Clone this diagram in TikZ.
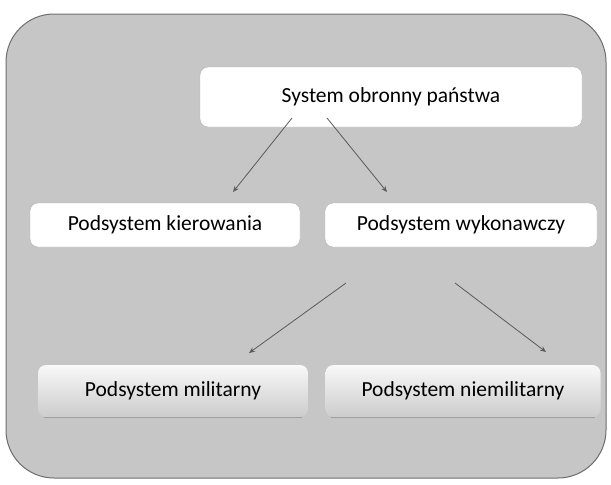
\documentclass[tikz,border=0pt]{standalone}
\usepackage{fontspec}
\setmainfont{Carlito}
\usetikzlibrary{arrows.meta}
\definecolor{bgray}{RGB}{198,198,198}
\definecolor{edgegray}{RGB}{110,110,110}
\definecolor{linegray}{RGB}{90,90,90}
\begin{document}
\begin{tikzpicture}[x=1pt,y=-1pt,
  whitebox/.style={draw=gray!60,fill=white,rounded corners=8pt,minimum height=44pt,font=\fontsize{21.5}{24}\selectfont,inner sep=0pt},
  fadebox/.style={rounded corners=8pt,minimum height=52pt,top color=white!95!gray,bottom color=gray!40,font=\fontsize{21.5}{24}\selectfont,inner sep=0pt},
  conn/.style={draw=linegray,line width=0.8pt,-{Stealth[length=6pt,width=5pt]}}]
\useasboundingbox (0,0) rectangle (611,485);
\draw[fill=bgray,draw=edgegray,line width=1pt,rounded corners=48pt] (6,14) rectangle (606,478);
\node[whitebox,minimum width=382pt,minimum height=60pt] (top) at (391,97) {System obronny państwa};
\node[whitebox,minimum width=270pt] (kier) at (165,225) {Podsystem kierowania};
\node[whitebox,minimum width=272pt] (wyk) at (461,225) {Podsystem wykonawczy};
\node[fadebox,minimum width=270pt] (mil) at (173,391) {Podsystem militarny};
\node[fadebox,minimum width=275pt] (nmil) at (463,391) {Podsystem niemilitarny};
\draw[draw=gray!75,line width=1.2pt] ([xshift=6pt]mil.south west) -- ([xshift=-6pt]mil.south east);
\draw[draw=gray!75,line width=1.2pt] ([xshift=6pt]nmil.south west) -- ([xshift=-6pt]nmil.south east);
\coordinate (t1) at (292,118);
\coordinate (t2) at (327,118);
\coordinate (w1) at (346,283);
\coordinate (w2) at (455,283);
\draw[conn] (t1) -- (233,192);
\draw[conn] (t2) -- (387,192);
\draw[conn] (w1) -- (249,353);
\draw[conn] (w2) -- (546,352);
\end{tikzpicture}
\end{document}
